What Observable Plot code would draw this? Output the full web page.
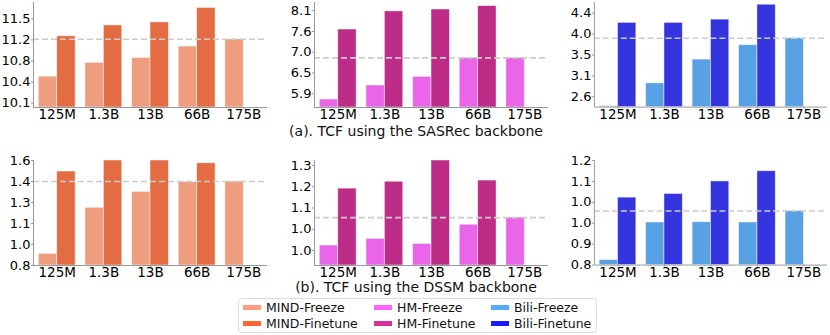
<!DOCTYPE html>
<html>
<head>
<meta charset="utf-8">
<script src="https://cdn.jsdelivr.net/npm/d3@7"></script>
<script src="https://cdn.jsdelivr.net/npm/@observablehq/plot@0.6"></script>
<style>
  html, body { margin: 0; padding: 0; background: white; }
  body { font-family: "DejaVu Sans", sans-serif; }
  #root { position: relative; width: 830px; height: 335px; overflow: hidden; }
  .panel { position: absolute; }
  .caption { position: absolute; left: 0; width: 832px; text-align: center; font-size: 14px; line-height: 14px; color: #111; }
  .legend { position: absolute; left: 238px; top: 298px; width: 357px; height: 33px; border: 1px solid #dddddd; border-radius: 3px; font-size: 12.5px; color: #111; }
  .col { position: absolute; top: 0; }
  .item { height: 16.6px; display: flex; align-items: center; white-space: nowrap; }
  .sw { width: 18px; height: 5px; margin-right: 5px; }
</style>
</head>
<body>
<div id="root"></div>
<script>
const sizes = ["125M", "1.3B", "13B", "66B", "175B"];

// SASRec backbone
const mindSasFreeze   = [10.54, 10.77, 10.85, 11.04, 11.16];
const mindSasFinetune = [11.21, 11.39, 11.44, 11.68, null];
const hmSasFreeze     = [5.77, 6.14, 6.37, 6.87, 6.87];
const hmSasFinetune   = [7.62, 8.10, 8.15, 8.24, null];
const biliSasFreeze   = [2.42, 2.91, 3.42, 3.73, 3.88];
const biliSasFinetune = [4.21, 4.21, 4.28, 4.60, null];

// DSSM backbone
const mindDssmFreeze   = [0.889, 1.24, 1.361, 1.435, 1.44];
const mindDssmFinetune = [1.516, 1.60, 1.60, 1.579, null];
const hmDssmFreeze     = [0.979, 1.004, 0.985, 1.057, 1.084];
const hmDssmFinetune   = [1.193, 1.219, 1.299, 1.2235, null];
const biliDssmFreeze   = [0.819, 0.963, 0.964, 0.963, 1.007];
const biliDssmFinetune = [1.058, 1.072, 1.12, 1.159, null];

// y tick values and their printed labels
const mindSasTicks = [10.1, 10.45, 10.8, 11.15, 11.5];
const mindSasLabels = ["10.1", "10.4", "10.8", "11.2", "11.5"];
const hmSasTicks = [5.92, 6.47, 7.02, 7.57, 8.12];
const hmSasLabels = ["5.9", "6.5", "7.0", "7.6", "8.1"];
const biliSasTicks = [2.62, 3.07, 3.52, 3.97, 4.42];
const biliSasLabels = ["2.6", "3.1", "3.5", "4.0", "4.4"];
const mindDssmTicks = [0.8, 0.96, 1.12, 1.28, 1.44, 1.6];
const mindDssmLabels = ["0.8", "1.0", "1.1", "1.3", "1.4", "1.6"];
const hmDssmTicks = [0.96, 1.04, 1.12, 1.20, 1.28];
const hmDssmLabels = ["1.0", "1.0", "1.1", "1.2", "1.3"];
const biliDssmTicks = [0.8, 0.88, 0.96, 1.04, 1.12, 1.2];
const biliDssmLabels = ["0.8", "0.9", "1.0", "1.0", "1.1", "1.2"];

// y domains
const mindSasDomain = [10.029, 11.77];
const hmSasDomain = [5.558, 8.335];
const biliSasDomain = [2.399, 4.648];
const mindDssmDomain = [0.8, 1.6];
const hmDssmDomain = [0.9035, 1.299];
const biliDssmDomain = [0.8, 1.2];

const barColors = {
  mind: ["#ee9d7e", "#e46c43"],
  hm: ["#e966e8", "#bd2c86"],
  bili: ["#58a1e5", "#3535e0"]
};
const legendColors = {
  mind: ["#ff9f80", "#ff6633"],
  hm: ["#ff66ff", "#d62f98"],
  bili: ["#55aaff", "#1a1aff"]
};
const legendNames = [["MIND-Freeze", "MIND-Finetune"], ["HM-Freeze", "HM-Finetune"], ["Bili-Freeze", "Bili-Finetune"]];

const root = document.getElementById("root");
const W = 0.395;
const XD = [-0.508, 4.508];

function panel(left, top, freeze, finetune, colors, domain, ticks, labels) {
  const data = [];
  sizes.forEach((s, i) => {
    if (freeze[i] != null) data.push({i, kind: "Freeze", v: freeze[i]});
    if (finetune[i] != null) data.push({i, kind: "Finetune", v: finetune[i]});
  });
  const ref = freeze[freeze.length - 1];
  const svg = Plot.plot({
    width: 270, height: 125,
    marginLeft: 33, marginRight: 3, marginTop: 2, marginBottom: 18,
    x: {domain: XD},
    y: {domain},
    style: {fontFamily: "DejaVu Sans", fontSize: "13px", color: "black", background: "transparent", overflow: "visible"},
    marks: [
      Plot.rectY(data, {
        x1: d => d.i - (d.kind === "Freeze" ? W : 0),
        x2: d => d.i + (d.kind === "Freeze" ? 0 : W),
        y1: domain[0], y2: "v",
        fill: d => d.kind === "Freeze" ? colors[0] : colors[1],
        stroke: "white", strokeWidth: 0.8, strokeOpacity: 0.6
      }),
      Plot.ruleY([ref], {stroke: "#cccccc", strokeWidth: 1.6, strokeDasharray: "6,3"}),
      Plot.ruleX([XD[0]], {stroke: "#999999"}),
      Plot.ruleY([domain[0]], {stroke: "#999999"}),
      Plot.axisY(ticks, {tickFormat: d => labels[ticks.indexOf(d)], tickSize: 2, tickPadding: 1, stroke: "#999999", fill: "black", fontSize: 13, label: null}),
      Plot.axisX(d3.range(sizes.length), {tickFormat: i => sizes[i], tickSize: 2, tickPadding: 0, stroke: "#999999", fill: "black", fontSize: 13.5, label: null})
    ]
  });
  const div = document.createElement("div");
  div.className = "panel";
  div.style.left = left + "px";
  div.style.top = top + "px";
  div.appendChild(svg);
  root.appendChild(div);
}

const lefts = [0, 280.5, 561];
panel(lefts[0], 0, mindSasFreeze, mindSasFinetune, barColors.mind, mindSasDomain, mindSasTicks, mindSasLabels);
panel(lefts[1], 0, hmSasFreeze, hmSasFinetune, barColors.hm, hmSasDomain, hmSasTicks, hmSasLabels);
panel(lefts[2], 0, biliSasFreeze, biliSasFinetune, barColors.bili, biliSasDomain, biliSasTicks, biliSasLabels);
panel(lefts[0], 158, mindDssmFreeze, mindDssmFinetune, barColors.mind, mindDssmDomain, mindDssmTicks, mindDssmLabels);
panel(lefts[1], 158, hmDssmFreeze, hmDssmFinetune, barColors.hm, hmDssmDomain, hmDssmTicks, hmDssmLabels);
panel(lefts[2], 158, biliDssmFreeze, biliDssmFinetune, barColors.bili, biliDssmDomain, biliDssmTicks, biliDssmLabels);

function caption(text, top) {
  const d = document.createElement("div");
  d.className = "caption";
  d.style.top = top + "px";
  d.textContent = text;
  root.appendChild(d);
}
caption("(a). TCF using the SASRec backbone", 124);
caption("(b). TCF using the DSSM backbone", 280);

const legend = document.createElement("div");
legend.className = "legend";
const colLefts = [4, 135, 252];
const colorSets = [legendColors.mind, legendColors.hm, legendColors.bili];
legendNames.forEach((names, c) => {
  const col = document.createElement("div");
  col.className = "col";
  col.style.left = colLefts[c] + "px";
  names.forEach((n, k) => {
    const it = document.createElement("div");
    it.className = "item";
    const sw = document.createElement("span");
    sw.className = "sw";
    sw.style.background = colorSets[c][k];
    const t = document.createElement("span");
    t.textContent = n;
    it.appendChild(sw);
    it.appendChild(t);
    col.appendChild(it);
  });
  legend.appendChild(col);
});
root.appendChild(legend);
</script>
</body>
</html>
